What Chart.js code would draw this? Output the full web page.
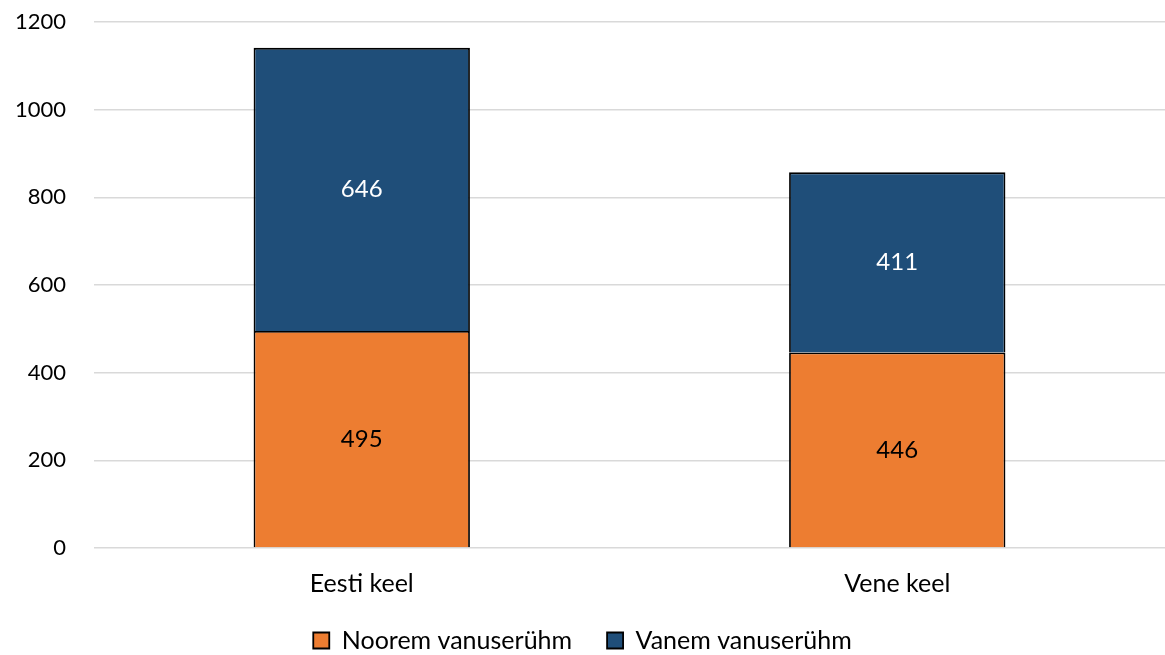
<!DOCTYPE html>
<html>
<head>
<meta charset="utf-8">
<title>Vanuserühmad keele järgi</title>
<script src="https://cdn.jsdelivr.net/npm/chart.js@4.4.1/dist/chart.umd.min.js"></script>
<style>
    html, body { margin: 0; padding: 0; background: #ffffff; }
    #wrap { width: 1165px; height: 655px; position: relative; }
</style>
</head>
<body>
<div id="wrap"><canvas id="langChart"></canvas></div>
<script>
var categories = ['Eesti keel', 'Vene keel'];
var youngerGroup = [495, 446];
var olderGroup = [646, 411];
var seriesNames = ['Noorem vanuserühm', 'Vanem vanuserühm'];
var yTicks = [0, 200, 400, 600, 800, 1000, 1200];

(function () {
    'use strict';

    var FONT = 'Lato, Calibri, "Open Sans", sans-serif';

    // values drawn in the middle of each bar segment
    var barValues = {
        id: 'barValues',
        afterDatasetsDraw: function (chart) {
            var ctx = chart.ctx;
            ctx.save();
            ctx.font = '24px ' + FONT;
            ctx.textAlign = 'center';
            ctx.textBaseline = 'middle';
            chart.data.datasets.forEach(function (ds, i) {
                var meta = chart.getDatasetMeta(i);
                meta.data.forEach(function (bar, j) {
                    var mid = (bar.y + bar.base) / 2;
                    ctx.fillStyle = ds.labelColor;
                    ctx.fillText(String(ds.data[j]), bar.x, mid);
                });
            });
            ctx.restore();
        }
    };

    new Chart(document.getElementById('langChart'), {
        type: 'bar',
        data: {
            labels: categories,
            datasets: [{
                label: seriesNames[0],
                data: youngerGroup,
                backgroundColor: '#ed7d31',
                borderColor: '#000000',
                borderWidth: 1.8,
                labelColor: '#000000'
            }, {
                label: seriesNames[1],
                data: olderGroup,
                backgroundColor: '#1f4e79',
                borderColor: '#000000',
                borderWidth: 1.8,
                labelColor: '#ffffff'
            }]
        },
        options: {
            responsive: true,
            maintainAspectRatio: false,
            animation: false,
            categoryPercentage: 1,
            barPercentage: 0.404,
            layout: { padding: { top: 22, right: 0, left: 0, bottom: 0 } },
            scales: {
                x: {
                    stacked: true,
                    grid: { display: false },
                    border: { display: false },
                    afterFit: function (scale) { scale.height = 45; },
                    ticks: { color: '#000000', font: { family: FONT, size: 25 }, padding: 13 }
                },
                y: {
                    stacked: true,
                    min: 0,
                    max: 1200,
                    afterBuildTicks: function (scale) {
                        scale.ticks = yTicks.map(function (v) { return { value: v }; });
                    },
                    afterFit: function (scale) {
                        scale.width = 94;
                        scale.paddingTop = 0;
                        scale.paddingBottom = 0;
                    },
                    grid: { color: '#d9d9d9', lineWidth: 1.5, drawTicks: false },
                    border: { display: false },
                    ticks: {
                        color: '#000000',
                        font: { family: FONT, size: 22 },
                        padding: 28,
                        callback: function (v) { return String(v); }
                    }
                }
            },
            plugins: {
                legend: {
                    position: 'bottom',
                    maxHeight: 62,
                    labels: {
                        color: '#000000',
                        font: { family: FONT, size: 25 },
                        boxWidth: 16,
                        boxHeight: 16,
                        padding: 35
                    }
                },
                tooltip: { enabled: false }
            }
        },
        plugins: [barValues]
    });
})();
</script>
</body>
</html>
